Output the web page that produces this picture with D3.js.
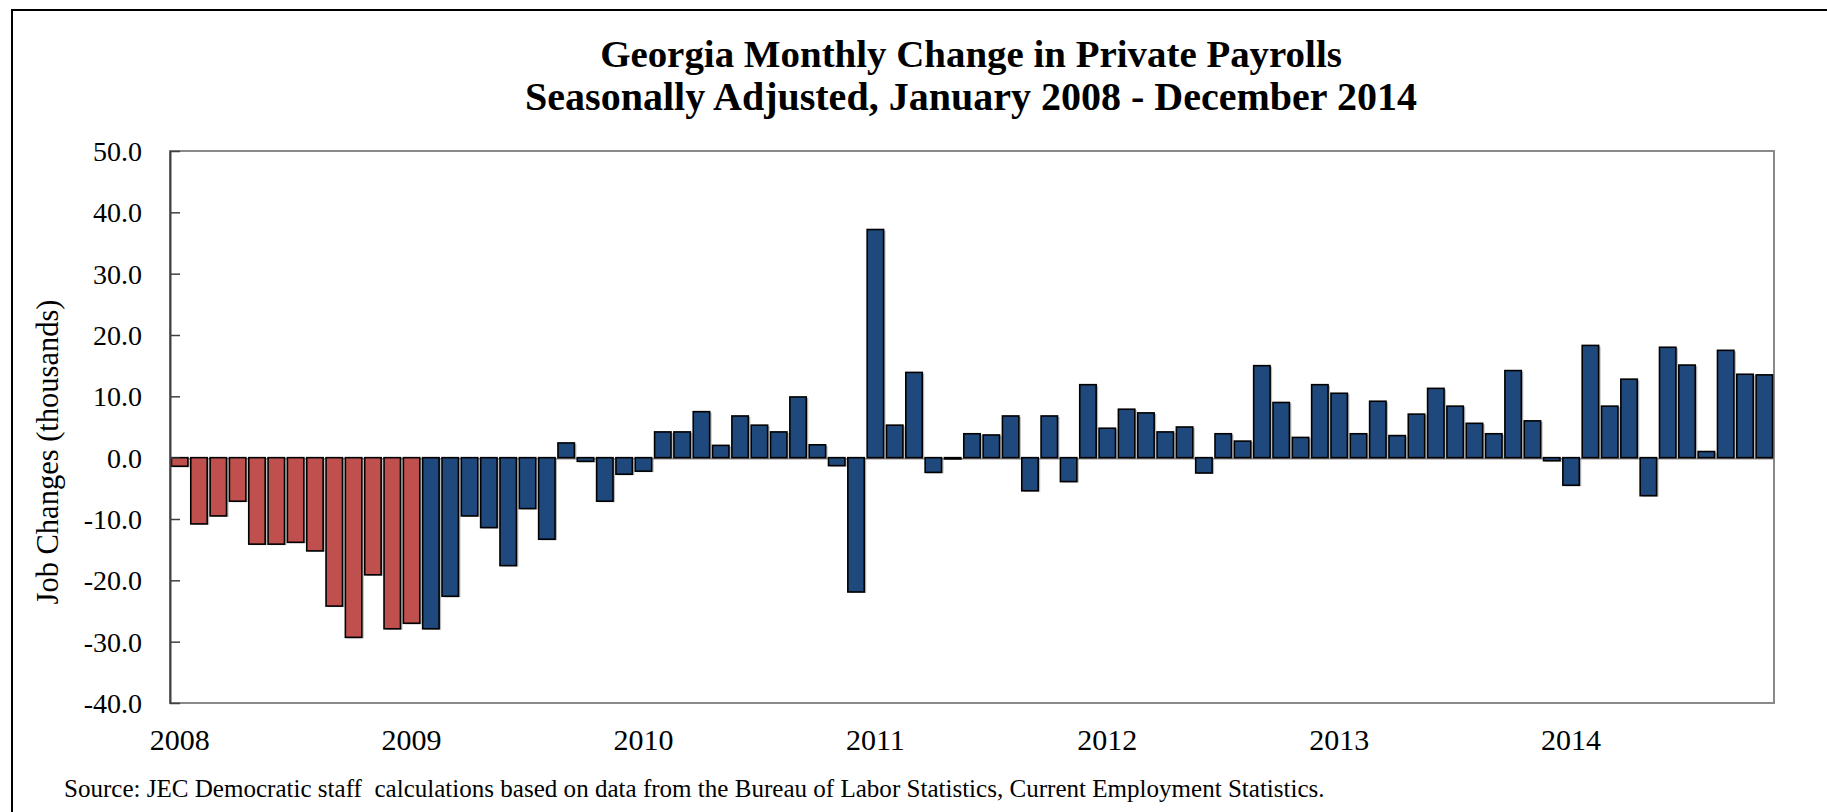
<!doctype html>
<html lang="en">
  <head>
    <meta charset="utf-8">
    <title>Georgia Monthly Change in Private Payrolls</title>
    <style>
      body { margin: 0; background: #fff; }
      svg text { font-family: "Liberation Serif", "DejaVu Serif", serif; fill: #000; }
    </style>
  </head>
  <body>
    <script src="https://cdn.jsdelivr.net/npm/d3@7"></script>
    <script>

      // monthly change, thousands of jobs
      var values2008 = [-1.4, -10.8, -9.5, -7.1, -14.1, -14.1, -13.8, -15.2, -24.2, -29.3, -19.1, -27.9];
      var values2009 = [-27.0, -27.9, -22.6, -9.5, -11.4, -17.6, -8.3, -13.3, 2.4, -0.6, -7.1, -2.7];
      var values2010 = [-2.2, 4.2, 4.2, 7.5, 2.0, 6.8, 5.3, 4.2, 9.9, 2.1, -1.3, -21.9];
      var values2011 = [37.2, 5.3, 13.9, -2.4, -0.2, 3.9, 3.7, 6.8, -5.4, 6.8, -3.9, 11.9];
      var values2012 = [4.8, 7.9, 7.3, 4.2, 5.0, -2.5, 3.9, 2.7, 15.0, 9.0, 3.3, 11.9];
      var values2013 = [10.5, 3.9, 9.2, 3.6, 7.1, 11.3, 8.4, 5.6, 3.9, 14.2, 6.0, -0.5];
      var values2014 = [-4.5, 18.3, 8.4, 12.8, -6.2, 18.0, 15.1, 1.0, 17.5, 13.6, 13.5];

      var years = ["2008", "2009", "2010", "2011", "2012", "2013", "2014"];
      var yTicks = [-40, -30, -20, -10, 0, 10, 20, 30, 40, 50];
      var redUntil = "2009-01"; // bars up to this month are red

      var byYear = [values2008, values2009, values2010, values2011, values2012, values2013, values2014];
      var data = [];
      byYear.forEach(function(vals, yi){
        vals.forEach(function(v, m){
          data.push({month: years[yi] + "-" + String(m + 1).padStart(2, "0"), value: v});
        });
      });
      var categories = data.map(function(d){ return d.month; });

      var W = 1827, H = 812;
      var margin = {top: 151, right: 53, bottom: 109, left: 170};

      var svg = d3.select("body").append("svg")
        .attr("width", W)
        .attr("height", H);

      // outer frame (only top and left show in the picture)
      svg.append("path")
        .attr("d", "M12," + H + "V10H" + W)
        .attr("fill", "none")
        .attr("stroke", "#000")
        .attr("stroke-width", 2);

      var x = d3.scaleBand()
        .domain(categories)
        .range([margin.left, W - margin.right])
        .paddingInner(0.15)
        .paddingOuter(0.075);

      var y = d3.scaleLinear()
        .domain([-40, 50])
        .range([H - margin.bottom, margin.top]);

      // plot frame
      svg.append("rect")
        .attr("x", margin.left)
        .attr("y", margin.top)
        .attr("width", W - margin.right - margin.left)
        .attr("height", H - margin.bottom - margin.top)
        .attr("fill", "none")
        .attr("stroke", "#898989")
        .attr("stroke-width", 2);

      // zero line
      svg.append("line")
        .attr("x1", margin.left).attr("x2", W - margin.right)
        .attr("y1", y(0) + 1).attr("y2", y(0) + 1)
        .attr("stroke", "#898989")
        .attr("stroke-width", 1.5);

      // soft shadow
      svg.selectAll(".shadow")
        .data(data)
        .enter()
        .append("rect")
        .attr("class", "shadow")
        .attr("x", function(d){ return x(d.month) + 2; })
        .attr("y", function(d){ return Math.min(y(d.value), y(0)) + 1; })
        .attr("width", x.bandwidth())
        .attr("height", function(d){ return Math.abs(y(d.value) - y(0)); })
        .attr("fill", "#8c8c8c")
        .attr("opacity", 0.6);

      svg.selectAll(".bar")
        .data(data)
        .enter()
        .append("rect")
        .attr("class", "bar")
        .attr("x", function(d){ return x(d.month); })
        .attr("y", function(d){ return Math.min(y(d.value), y(0)); })
        .attr("width", x.bandwidth())
        .attr("height", function(d){ return Math.abs(y(d.value) - y(0)); })
        .attr("fill", function(d){ return d.month <= redUntil ? "#c0504d" : "#1f497d"; })
        .attr("stroke", "#000")
        .attr("stroke-width", 1.6);

      // y axis, ticks pointing inward
      var yAxis = svg.append("g")
        .attr("transform", "translate(" + margin.left + ",0)")
        .call(d3.axisLeft(y)
          .tickValues(yTicks)
          .tickFormat(function(d){ return d.toFixed(1); })
          .tickSizeInner(-10)
          .tickSizeOuter(0)
          .tickPadding(28));
      yAxis.select(".domain").attr("stroke", "#404040").attr("stroke-width", 2);
      yAxis.selectAll(".tick line").attr("stroke", "#404040").attr("stroke-width", 1.5);
      yAxis.selectAll("text").style("font-size", "28px").attr("dy", "0.34em");

      // year labels on the January bars
      var janCats = years.map(function(yr){ return yr + "-01"; });
      var xAxis = svg.append("g")
        .attr("transform", "translate(0," + (H - margin.bottom) + ")")
        .call(d3.axisBottom(x)
          .tickValues(janCats)
          .tickFormat(function(d){ return d.slice(0, 4); })
          .tickSize(0)
          .tickPadding(26));
      xAxis.select(".domain").remove();
      xAxis.selectAll("text").style("font-size", "30px");

      // fit text to the width it has in the picture
      function fit(sel, target){
        var size = parseFloat(sel.style("font-size"));
        var w = sel.node().getComputedTextLength();
        sel.style("font-size", (size * target / w).toFixed(2) + "px");
      }

      var cx = (margin.left + W - margin.right) / 2 - 1;
      var t1 = svg.append("text")
        .attr("x", cx).attr("y", 67)
        .attr("text-anchor", "middle")
        .style("font-weight", "bold")
        .style("font-size", "36px")
        .text("Georgia Monthly Change in Private Payrolls");
      fit(t1, 742);
      var t2 = svg.append("text")
        .attr("x", cx).attr("y", 110)
        .attr("text-anchor", "middle")
        .style("font-weight", "bold")
        .style("font-size", "36px")
        .text("Seasonally Adjusted, January 2008 - December 2014");
      fit(t2, 892);

      var yl = svg.append("text")
        .attr("transform", "translate(58,452) rotate(-90)")
        .attr("text-anchor", "middle")
        .style("font-size", "28px")
        .text("Job Changes (thousands)");
      fit(yl, 305);

      var src = svg.append("text")
        .attr("x", 64).attr("y", 797)
        .style("font-size", "22px")
        .style("white-space", "pre")
        .text("Source: JEC Democratic staff  calculations based on data from the Bureau of Labor Statistics, Current Employment Statistics.");
      fit(src, 1261);

    </script>
  </body>
</html>
